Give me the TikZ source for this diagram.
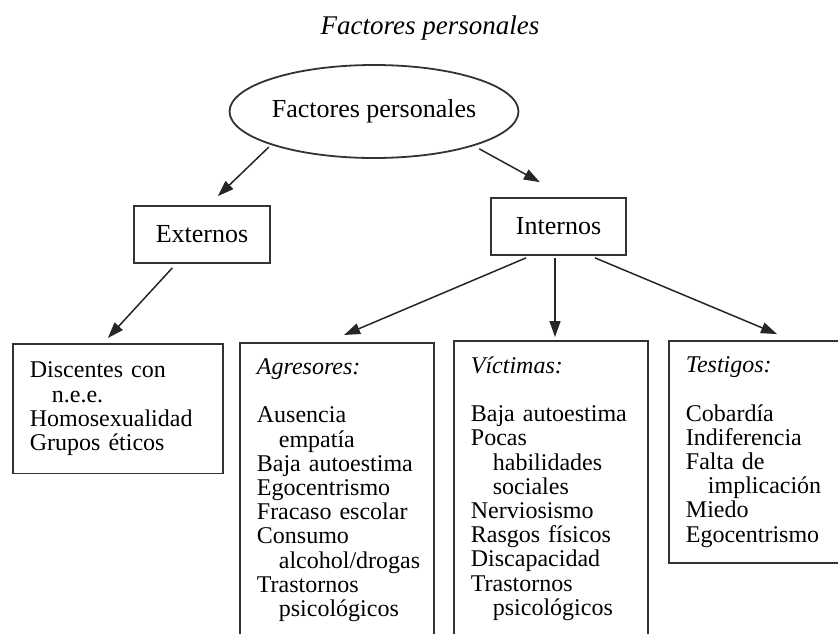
\documentclass[tikz,border=0pt]{standalone}
\usepackage{fontspec}
\setmainfont{Liberation Serif}
\usetikzlibrary{shapes.geometric,arrows.meta}
\newcommand{\sangria}[1]{\mbox{\hspace{11pt}#1}}

\begin{document}
\begin{tikzpicture}[x=0.5pt, y=-0.5pt,
        caja/.style={draw=black!80, line width=0.9pt, rectangle, inner sep=0pt, minimum width=68pt, minimum height=28.5pt, font=\fontsize{13}{15}\selectfont},
        lista/.style={draw=black!80, line width=0.9pt, anchor=north west, align=left, inner xsep=8.5pt, inner ysep=8pt, font=\fontsize{12}{12.1}\selectfont},
        flecha/.style={-{Triangle[length=8pt,width=5.5pt]}, line width=0.75pt, black!85}]
        % Marco de la figura
        \useasboundingbox (0,0) rectangle (838,633);
        \clip (0,0) rectangle (838,633);

        % Titulo
        \node[font=\fontsize{13.5}{16}\selectfont\itshape] (titulo) at (430,28) {Factores personales};

        % Nodo raiz
        \node[draw=black!80, line width=0.9pt, ellipse, minimum width=139pt, minimum height=46.5pt, inner sep=0pt, font=\fontsize{13}{15}\selectfont] (factores) at (374,111.5) {Factores personales};

        % Segundo nivel
        \node[caja] (externos) at (202,234.5) {Externos};
        \node[caja, minimum width=67.5pt] (internos) at (558.5,226.5) {Internos};

        % Listas
        \node[lista, text width=88pt, inner ysep=9pt] (discentes) at (12,343) {
            Discentes con\\
            \sangria{n.e.e.}\\
            Homosexualidad\\
            Grupos éticos
        };
        \node[lista, text width=80pt] (agresores) at (239,342) {
            \textit{Agresores:}\\[12pt]
            Ausencia\\
            \sangria{empatía}\\
            Baja autoestima\\
            Egocentrismo\\
            Fracaso escolar\\
            Consumo\\
            \sangria{alcohol/drogas}\\
            Trastornos\\
            \sangria{psicológicos}
        };
        \node[lista, text width=80pt] (victimas) at (453,340) {
            \textit{Víctimas:}\\[12pt]
            Baja autoestima\\
            Pocas\\
            \sangria{habilidades}\\
            \sangria{sociales}\\
            Nerviosismo\\
            Rasgos físicos\\
            Discapacidad\\
            Trastornos\\
            \sangria{psicológicos}
        };
        \node[lista, text width=84pt] (testigos) at (668,340) {
            \textit{Testigos:}\\[12pt]
            Cobardía\\
            Indiferencia\\
            Falta de\\
            \sangria{implicación}\\
            Miedo\\
            Egocentrismo
        };

        % Flechas
        \draw[flecha, shorten <=1.5pt, shorten >=6.5pt] (factores.198) -- ([xshift=3.25pt]externos.north);
        \draw[flecha, shorten <=3pt, shorten >=15.5pt] (factores.341) -- ([xshift=4.25pt]internos.north);
        \draw[flecha, shorten <=2.7pt, shorten >=3.4pt] ([xshift=-13pt]externos.south) -- ([xshift=-7.3pt]discentes.north);
        \draw[flecha, shorten <=2.5pt, shorten >=9pt] ([xshift=-13.9pt]internos.south) -- ([xshift=-4.7pt]agresores.north);
        \draw[flecha, shorten <=1pt, shorten >=1.5pt] ([xshift=-1.75pt]internos.south) -- ([xshift=-1.75pt]internos.south |- victimas.north);
        \draw[flecha, shorten <=2.5pt, shorten >=7.7pt] ([xshift=15.9pt]internos.south) -- ([xshift=61.6pt]testigos.north west);
    \end{tikzpicture}
\end{document}
